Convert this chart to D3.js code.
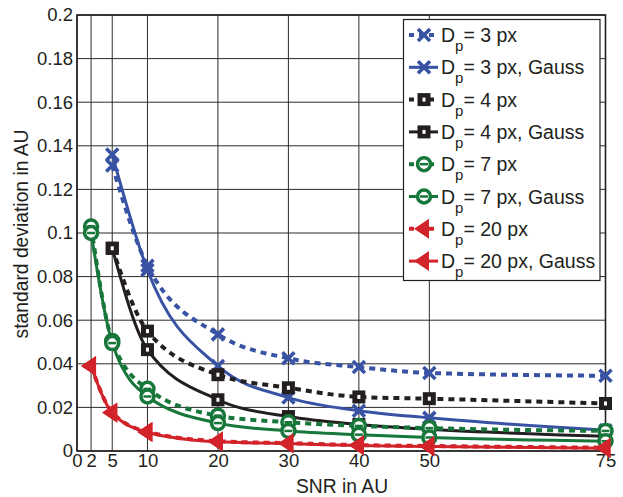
<!DOCTYPE html>
<html>
<head>
<meta charset="utf-8">
<script src="https://cdn.jsdelivr.net/npm/d3@7"></script>
<style>
body { margin: 0; background: #fff; }
text { font-family: "Liberation Sans", Arial, sans-serif; fill: #231f20; }
</style>
</head>
<body>
<svg id="mysvg" width="623" height="497"></svg>
<script>
var snrTicks = [0, 2, 5, 10, 20, 30, 40, 50, 75];
var stdTicks = [0, 0.02, 0.04, 0.06, 0.08, 0.1, 0.12, 0.14, 0.16, 0.18, 0.2];

var snr3 = [5, 10, 20, 30, 40, 50, 75];
var dp3 = [0.131, 0.085, 0.0535, 0.0425, 0.0385, 0.0358, 0.0345];
var dp3Gauss = [0.136, 0.083, 0.039, 0.0245, 0.0185, 0.0152, 0.0095];

var snr4 = [5, 10, 20, 30, 40, 50, 75];
var dp4 = [0.093, 0.055, 0.035, 0.029, 0.0248, 0.024, 0.0218];
var dp4Gauss = [0.093, 0.0465, 0.0235, 0.0158, 0.0122, 0.0100, 0.0068];

var snr7 = [2, 5, 10, 20, 30, 40, 50, 75];
var dp7 = [0.103, 0.0505, 0.0285, 0.0162, 0.0132, 0.0115, 0.0105, 0.0092];
var dp7Gauss = [0.100, 0.0495, 0.025, 0.0128, 0.0092, 0.0075, 0.0062, 0.0045];

var snr20 = [2, 5, 10, 20, 30, 40, 50, 75];
var dp20 = [0.039, 0.0177, 0.0088, 0.0045, 0.0036, 0.0027, 0.0023, 0.0015];
var dp20Gauss = [0.039, 0.0175, 0.0086, 0.0042, 0.0034, 0.0025, 0.0021, 0.0013];

var labels = ["= 3 px", "= 3 px, Gauss", "= 4 px", "= 4 px, Gauss",
              "= 7 px", "= 7 px, Gauss", "= 20 px", "= 20 px, Gauss"];

var blue = "#3953a4", black = "#231f20", green = "#17763a", red = "#d2232a";

var series = [
  {x: snr3, y: dp3, color: blue, dash: true, marker: "x"},
  {x: snr3, y: dp3Gauss, color: blue, dash: false, marker: "x"},
  {x: snr4, y: dp4, color: black, dash: true, marker: "sq"},
  {x: snr4, y: dp4Gauss, color: black, dash: false, marker: "sq"},
  {x: snr7, y: dp7, color: green, dash: true, marker: "o"},
  {x: snr7, y: dp7Gauss, color: green, dash: false, marker: "o"},
  {x: snr20, y: dp20, color: red, dash: true, marker: "tri"},
  {x: snr20, y: dp20Gauss, color: red, dash: false, marker: "tri"}
];

var svg = d3.select("#mysvg");
var plotLeft = 77, plotRight = 605.5, plotTop = 15, plotBottom = 451;

var x = d3.scaleLinear().domain([0, 75]).range([plotLeft, plotRight]);
var y = d3.scaleLinear().domain([0, 0.2]).range([plotBottom, plotTop]);

var grid = svg.append("g");
grid.selectAll(".v").data(snrTicks).enter().append("line")
  .attr("x1", function(d){ return x(d); }).attr("x2", function(d){ return x(d); })
  .attr("y1", plotTop).attr("y2", plotBottom)
  .attr("stroke", "#2b2b2b").attr("stroke-width", 1);
grid.selectAll(".h").data(stdTicks).enter().append("line")
  .attr("x1", plotLeft).attr("x2", plotRight)
  .attr("y1", function(d){ return y(d); }).attr("y2", function(d){ return y(d); })
  .attr("stroke", "#2b2b2b").attr("stroke-width", 1);

// axes
var xAxis = d3.axisBottom(x).tickValues(snrTicks).tickSize(0).tickPadding(3)
  .tickFormat(d3.format("d"));
var yAxis = d3.axisLeft(y).tickValues(stdTicks).tickSize(0).tickPadding(4)
  .tickFormat(function(d){ return d === 0 ? "0" : String(+d.toFixed(2)); });

var gx = svg.append("g").attr("transform", "translate(0," + plotBottom + ")").call(xAxis);
var gy = svg.append("g").attr("transform", "translate(" + plotLeft + ",0)").call(yAxis);
gx.select(".domain").remove();
gy.select(".domain").remove();
gx.attr("font-family", null);
gy.attr("font-family", null);
gx.selectAll("text").attr("fill", "#231f20").style("font-size", "18.5px");
gy.selectAll("text").attr("fill", "#231f20").style("font-size", "18.5px");

svg.append("rect").attr("x", plotLeft).attr("y", plotTop)
  .attr("width", plotRight - plotLeft).attr("height", plotBottom - plotTop)
  .attr("fill", "none").attr("stroke", "#231f20").attr("stroke-width", 1.6);

svg.append("text").attr("x", 342).attr("y", 493).attr("text-anchor", "middle")
  .style("font-size", "19.3px").text("SNR in AU");
svg.append("text").attr("transform", "translate(28,234) rotate(-90)")
  .attr("text-anchor", "middle").style("font-size", "19.3px").text("standard deviation in AU");

function drawMarker(g, type, color, cx, cy) {
  if (type === "x") {
    var s = 6;
    g.append("path")
      .attr("d", "M" + (cx - s) + "," + (cy - s) + "L" + (cx + s) + "," + (cy + s) +
                 "M" + (cx - s) + "," + (cy + s) + "L" + (cx + s) + "," + (cy - s))
      .attr("stroke", color).attr("stroke-width", 3.6).attr("fill", "none");
  } else if (type === "sq") {
    g.append("rect").attr("x", cx - 6.5).attr("y", cy - 6.5).attr("width", 13).attr("height", 13)
      .attr("fill", color);
    g.append("rect").attr("x", cx - 1.5).attr("y", cy - 2).attr("width", 3).attr("height", 4)
      .attr("fill", "#fff");
  } else if (type === "o") {
    g.append("circle").attr("cx", cx).attr("cy", cy).attr("r", 6.5)
      .attr("fill", "#fff").attr("stroke", color).attr("stroke-width", 3.5);
    g.append("line").attr("x1", cx - 4).attr("x2", cx + 4).attr("y1", cy).attr("y2", cy)
      .attr("stroke", color).attr("stroke-width", 2.5);
  } else {
    g.append("path")
      .attr("d", "M" + (cx - 10) + "," + cy + "L" + (cx + 5) + "," + (cy - 10) + "L" + (cx + 5) + "," + (cy + 10) + "Z")
      .attr("fill", color);
  }
}

var line = d3.line().curve(d3.curveMonotoneX)
  .x(function(d){ return x(d[0]); }).y(function(d){ return y(d[1]); });

var plot = svg.append("g");
series.forEach(function(s){
  var pts = s.x.map(function(v, j){ return [v, s.y[j]]; });
  plot.append("path").attr("d", line(pts))
    .attr("fill", "none").attr("stroke", s.color)
    .attr("stroke-width", s.dash ? 4 : 3)
    .attr("stroke-dasharray", s.dash ? "6,5" : null);
  var mg = plot.append("g");
  pts.forEach(function(p){ drawMarker(mg, s.marker, s.color, x(p[0]), y(p[1])); });
});

// legend
var lg = svg.append("g");
lg.append("rect").attr("x", 403.5).attr("y", 19.5).attr("width", 196.5).attr("height", 261)
  .attr("fill", "#fff").attr("stroke", "#231f20").attr("stroke-width", 1.2);
series.forEach(function(sk, k){
  var ly = 35 + k * 32.3;
  lg.append("line").attr("x1", 409).attr("x2", 438).attr("y1", ly).attr("y2", ly)
    .attr("stroke", sk.color).attr("stroke-width", sk.dash ? 4 : 3)
    .attr("stroke-dasharray", sk.dash ? "5,5" : null);
  drawMarker(lg, sk.marker, sk.color, 424, ly);
  var t = lg.append("text").attr("x", 441).attr("y", ly + 7).style("font-size", "19.5px");
  t.append("tspan").text("D");
  t.append("tspan").style("font-size", "15px").attr("dy", 9).text("p");
  t.append("tspan").attr("dy", -9).text(labels[k]);
});
</script>
</body>
</html>
